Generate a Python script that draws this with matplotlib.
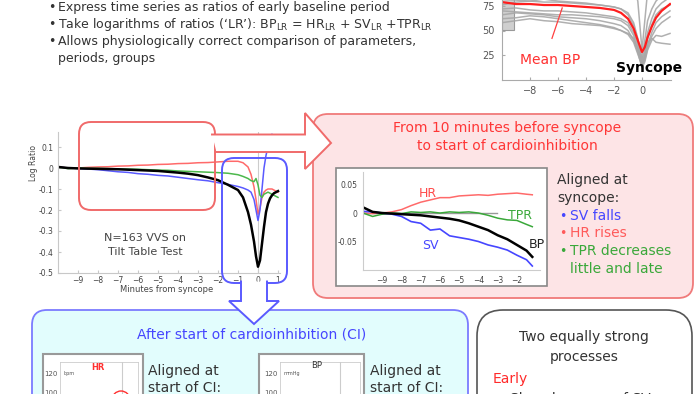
import numpy as np
import matplotlib.pyplot as plt
from matplotlib.patches import FancyBboxPatch, Polygon, Rectangle, Circle

W, H = 700, 394

# main chart: log ratios, minutes from syncope (N=163)
t_main = [-10, -9.5, -9, -8.5, -8, -7.5, -7, -6.5, -6, -5.5, -5, -4.5, -4, -3.5, -3, -2.5, -2,
          -1.5, -1, -0.75, -0.5, -0.35, -0.2, -0.1, 0, 0.1, 0.2, 0.3, 0.4, 0.5, 0.6, 0.7, 0.8, 0.9, 1.0]
bp_main = [0.005, 0.0, -0.002, -0.003, -0.004, -0.005, -0.006, -0.008, -0.01, -0.012, -0.014, -0.018,
           -0.022, -0.027, -0.034, -0.045, -0.058, -0.08, -0.105, -0.14, -0.21, -0.27, -0.35, -0.42,
           -0.47, -0.44, -0.36, -0.28, -0.21, -0.17, -0.145, -0.13, -0.12, -0.115, -0.11]
hr_main = [0.005, 0.0, 0.0, 0.003, 0.005, 0.006, 0.009, 0.01, 0.013, 0.014, 0.017, 0.018, 0.021,
           0.022, 0.025, 0.026, 0.029, 0.032, 0.032, 0.025, 0.005, -0.03, -0.09, -0.15, -0.22,
           -0.19, -0.14, -0.115, -0.105, -0.1, -0.1, -0.1, -0.105, -0.11, -0.115]
sv_main = [0.005, 0.0, -0.002, -0.005, -0.008, -0.013, -0.018, -0.021, -0.027, -0.03, -0.035,
           -0.038, -0.044, -0.05, -0.056, -0.061, -0.07, -0.078, -0.088, -0.095, -0.105, -0.115,
           -0.15, -0.2, -0.25, -0.2, -0.1, 0.0, 0.06, 0.1, 0.13, 0.16, np.nan, np.nan, np.nan]
tpr_main = [0.005, -0.003, 0.0, -0.002, -0.002, -0.003, -0.004, -0.005, -0.006, -0.008, -0.01,
            -0.011, -0.014, -0.016, -0.018, -0.02, -0.022, -0.025, -0.032, -0.04, -0.05, -0.06,
            -0.065, -0.05, -0.08, -0.13, -0.14, -0.125, -0.12, -0.115, -0.12, -0.125, -0.13,
            -0.135, -0.14]
main_xticks = [-9, -8, -7, -6, -5, -4, -3, -2, -1, 0, 1]
main_yticks = [0.1, 0, -0.1, -0.2, -0.3, -0.4, -0.5]
main_ylabels = ["0.1", "0", "-0.1", "-0.2", "-0.3", "-0.4", "-0.5"]

# inset: 10 minutes before syncope
t_pre = [-10, -9.5, -9, -8.5, -8, -7.5, -7, -6.5, -6, -5.5, -5, -4.5, -4, -3.5, -3, -2.5, -2, -1.5, -1.2]
hr_pre = [0.0, -0.001, 0.0, 0.002, 0.006, 0.013, 0.019, 0.023, 0.027, 0.027, 0.03, 0.031, 0.032,
          0.031, 0.033, 0.034, 0.035, 0.033, 0.032]
sv_pre = [0.003, 0.002, 0.0, -0.002, -0.006, -0.015, -0.018, -0.03, -0.028, -0.04, -0.043, -0.046,
          -0.05, -0.056, -0.06, -0.065, -0.074, -0.082, -0.093]
bp_pre = [0.01, 0.002, 0.0, -0.001, -0.002, -0.003, -0.004, -0.006, -0.008, -0.01, -0.013, -0.018,
          -0.024, -0.03, -0.039, -0.046, -0.056, -0.066, -0.077]
tpr_pre = [0.0, -0.006, -0.002, 0.0, -0.001, 0.002, 0.001, 0.002, 0.0, 0.002, 0.001, 0.002, 0.0,
           -0.004, -0.009, -0.012, -0.013, -0.02, -0.024]
pre_xticks = [-9, -8, -7, -6, -5, -4, -3, -2]
pre_yticks = [0.05, 0, -0.05]
pre_ylabels = ["0.05", "0", "-0.05"]

# top right: BP traces (mmHg)
t_bp = [-10, -9, -8, -7, -6, -5, -4, -3, -2, -1.5, -1, -0.6, -0.3, 0, 0.2, 0.4, 0.7, 1.0, 1.4, 2.0]
mean_bp = [79, 77, 77, 76, 76, 75, 74, 73, 71, 68, 62, 52, 40, 28, 33, 43, 54, 63, 70, 77]
bp_traces = [
    [82, 81, 80, 79, 79, 78, 77, 76, 74, 72, 68, 58, 42, 20, 30, 48, 62, 72, 78, 84],
    [72, 73, 71, 70, 70, 69, 68, 66, 64, 62, 58, 48, 35, 15, 22, 35, 48, 58, 64, 70],
    [66, 68, 67, 66, 64, 63, 62, 60, 57, 55, 50, 40, 28, 12, 18, 30, 40, 45, 44, 47],
    [76, 79, 80, 82, 84, 85, 86, 88, 90, 92, 95, 96, 80, 30, 60, 90, 100, 100, 100, 100],
    [62, 63, 65, 64, 62, 60, 58, 56, 53, 50, 47, 42, 32, 16, 24, 38, 42, 38, 37, 36],
    [85, 84, 83, 82, 80, 79, 78, 76, 74, 72, 66, 55, 38, 22, 40, 60, 72, 80, 86, 90],
    [58, 60, 62, 60, 59, 57, 56, 55, 52, 50, 46, 38, 26, 14, 20, 32, 44, 52, 58, 64],
    [70, 69, 68, 67, 66, 66, 65, 64, 62, 60, 55, 45, 30, 18, 26, 42, 56, 66, 72, 76],
]
bp_xticks = [-8, -6, -4, -2, 0]
bp_yticks = [25, 50, 75]

ci_yticks = [120, 100]

bullets_top = [
    "Express time series as ratios of early baseline period",
    r"Take logarithms of ratios (‘LR’): BP$_\mathrm{LR}$ = HR$_\mathrm{LR}$ + SV$_\mathrm{LR}$ +TPR$_\mathrm{LR}$",
    "Allows physiologically correct comparison of parameters,",
]

RED = '#ff5a5a'
BLUE = '#4646ff'
GREEN = '#3aa83a'
DARK = '#333333'


def box(x0, y0, x1, y1):
    return [x0 / W, 1 - y1 / H, (x1 - x0) / W, (y1 - y0) / H]


def rbox(ax, x0, y0, x1, y1, r, fc, ec, lw=1.3, z=1):
    ax.add_patch(FancyBboxPatch((x0, y0), x1 - x0, y1 - y0,
                                boxstyle=f"round,pad=0,rounding_size={r}",
                                fc=fc, ec=ec, lw=lw, zorder=z))


def arrow(ax, pts, color):
    ax.add_patch(Polygon(pts, closed=True, fc='white', ec='none', zorder=3))
    xs, ys = zip(*pts)
    ax.plot(xs, ys, color=color, lw=1.4, zorder=4, solid_joinstyle='miter')


fig = plt.figure(figsize=(7, 3.94), dpi=100)

bg = fig.add_axes([0, 0, 1, 1], zorder=0)
bg.set_xlim(0, W); bg.set_ylim(H, 0); bg.axis('off')

# top bullets
for i, s in enumerate(bullets_top):
    y = 7 + 17 * i
    bg.text(48, y, "•", fontsize=9, color=DARK, va='center')
    bg.text(58, y, s, fontsize=9, color=DARK, va='center')
bg.text(58, 58, "periods, groups", fontsize=9, color=DARK, va='center')

# background boxes
rbox(bg, 313, 114, 693, 298, 15, '#fde4e6', '#f07a7a', 1.3)
bg.text(507, 128, "From 10 minutes before syncope", fontsize=10, color='#ff3636', ha='center', va='center')
bg.text(507, 146, "to start of cardioinhibition", fontsize=10, color='#ff3636', ha='center', va='center')
bg.add_patch(Rectangle((336, 168), 211, 118, fc='white', ec='#888888', lw=1.2, zorder=1))
bg.text(557, 180, "Aligned at", fontsize=10, color=DARK, va='center')
bg.text(557, 198, "syncope:", fontsize=10, color=DARK, va='center')
for y, s, c in [(216, "SV falls", BLUE), (233, "HR rises", RED), (251, "TPR decreases", GREEN)]:
    bg.text(559, y, "•", fontsize=9, color=c, va='center')
    bg.text(570, y, s, fontsize=10, color=c, va='center')
bg.text(570, 269, "little and late", fontsize=10, color=GREEN, va='center')

rbox(bg, 32, 310, 468, 440, 15, '#e2fdfd', '#7b7bff', 1.3)
bg.text(252, 335, "After start of cardioinhibition (CI)", fontsize=10, color=BLUE, ha='center', va='center')
bg.add_patch(Rectangle((43, 354), 100, 60, fc='white', ec='#999999', lw=1.5, zorder=1))
bg.add_patch(Rectangle((259, 354), 105, 60, fc='white', ec='#999999', lw=1.5, zorder=1))
for x in [148, 370]:
    bg.text(x, 371, "Aligned at", fontsize=10, color=DARK, va='center')
    bg.text(x, 388, "start of CI:", fontsize=10, color=DARK, va='center')

rbox(bg, 477, 310, 692, 440, 26, 'white', '#555555', 1.2)
bg.text(584, 337, "Two equally strong", fontsize=10, color=DARK, ha='center', va='center')
bg.text(584, 357, "processes", fontsize=10, color=DARK, ha='center', va='center')
bg.text(493, 379, "Early", fontsize=10, color='#ff2a2a', va='center')
bg.text(493, 399, "•  Slow decrease of SV", fontsize=10, color=DARK, va='center')

# top right BP chart
ax = fig.add_axes(box(502, -8.7, 671.4, 79.5), zorder=2)
ax.patch.set_alpha(0)
ax.add_patch(Rectangle((-10, 51), 0.85, 60, fc='#cfcfcf', ec='#999999', lw=0.8))
for tr in bp_traces:
    ax.plot(t_bp, tr, color='#a8a8a8', lw=1.1, alpha=0.9)
ax.plot(t_bp, mean_bp, color='#ff1e1e', lw=1.6)
ax.plot([-6.43, -5.7], [42, 73], color='#ff4040', lw=0.9)
ax.set_xlim(-10, 2.1); ax.set_ylim(0, 90)
ax.set_xticks(bp_xticks); ax.set_yticks(bp_yticks)
for s in ['top', 'right']:
    ax.spines[s].set_visible(False)
for s in ['left', 'bottom']:
    ax.spines[s].set_color('#aaaaaa')
ax.tick_params(labelsize=7, labelcolor='#555555', color='#aaaaaa', length=2, direction='in', pad=5)

# main chart
ax = fig.add_axes(box(58, 132.3, 280, 273), zorder=2)
ax.patch.set_alpha(0)
ax.axvline(0, color='#cccccc', lw=0.8)
ax.plot(t_main, hr_main, color='#ff6a6a', lw=1.1)
ax.plot(t_main, sv_main, color='#5a5aff', lw=1.1)
ax.plot(t_main, tpr_main, color='#4cb84c', lw=1.1)
ax.plot(t_main, bp_main, color='black', lw=1.8)
ax.set_xlim(-10, 1.1); ax.set_ylim(-0.5, 0.17)
ax.set_xticks(main_xticks); ax.set_yticks(main_yticks)
ax.set_yticklabels(main_ylabels)
for s in ['top', 'right']:
    ax.spines[s].set_visible(False)
for s in ['left', 'bottom']:
    ax.spines[s].set_color('#c8c8c8')
ax.tick_params(labelsize=5.5, labelcolor='#444444', color='#c8c8c8', length=2, direction='in')
ax.tick_params(axis='x', pad=2)
ax.tick_params(axis='y', pad=3)
ax.set_ylabel("Log Ratio", fontsize=5.5, color='#444444')
ax.yaxis.set_label_coords(-0.09, 0.78)
ax.set_xlabel("Minutes from syncope", fontsize=6, color='#444444')
ax.xaxis.set_label_coords(0.49, -0.085)
ax.text(-5.65, -0.335, "N=163 VVS on", fontsize=8, color='#444444', ha='center', va='center')
ax.text(-5.65, -0.402, "Tilt Table Test", fontsize=8, color='#444444', ha='center', va='center')

# inset before cardioinhibition
ax = fig.add_axes(box(363, 172, 540, 270), zorder=2)
ax.patch.set_alpha(0)
ax.plot([-10, -3.05], [0, 0], color='#999999', lw=1)
ax.plot(t_pre, hr_pre, color='#ff6a6a', lw=1.1)
ax.plot(t_pre, tpr_pre, color='#3aa83a', lw=1.1)
ax.plot(t_pre, sv_pre, color='#4646ff', lw=1.2)
ax.plot(t_pre, bp_pre, color='black', lw=1.8)
ax.set_xlim(-10, -0.8); ax.set_ylim(-0.1, 0.072)
ax.set_xticks(pre_xticks); ax.set_yticks(pre_yticks)
ax.set_yticklabels(pre_ylabels)
for s in ['top', 'right']:
    ax.spines[s].set_visible(False)
for s in ['left', 'bottom']:
    ax.spines[s].set_color('#cccccc')
ax.tick_params(labelsize=5.5, labelcolor='#444444', color='#cccccc', length=0, pad=4)

# CI charts
for (x0, x1, xl) in [(60, 138, (-4, 1)), (280, 360, (-3, 1))]:
    ax = fig.add_axes(box(x0, 362, x1, 430), zorder=2)
    ax.patch.set_alpha(0)
    ax.axvline(0, color='#cccccc', lw=0.8)
    ax.set_xlim(*xl); ax.set_ylim(61, 132.6)
    ax.set_xticks([]); ax.set_yticks(ci_yticks)
    for s in ax.spines.values():
        s.set_color('#cccccc'); s.set_linewidth(0.6)
    ax.tick_params(labelsize=5, labelcolor='#555555', length=0, pad=2)

fg = fig.add_axes([0, 0, 1, 1], zorder=5)
fg.set_xlim(0, W); fg.set_ylim(H, 0); fg.axis('off')

rbox(fg, 79, 122, 215, 210, 12, 'none', '#f06a6a', 1.4, z=2)
arrow(fg, [(212, 134.5), (305, 134.5), (305, 113), (331, 143), (305, 169), (305, 152), (216.5, 152)], '#f06a6a')
rbox(fg, 222, 158, 287, 283, 12, 'none', '#5a5aff', 1.4, z=2)
arrow(fg, [(241, 281.5), (241, 301), (229, 301), (254, 324), (279, 301), (267, 301), (267, 281.5)], '#5a5aff')

fg.text(428, 193, "HR", fontsize=9, color='#ff4a4a', ha='center', va='center')
fg.text(520, 215, "TPR", fontsize=9, color=GREEN, ha='center', va='center')
fg.text(430, 245, "SV", fontsize=9, color=BLUE, ha='center', va='center')
fg.text(537, 244, "BP", fontsize=9, color='#222222', ha='center', va='center')
fg.text(520, 60, "Mean BP", fontsize=10, color='#ff3030', va='center')
fg.text(616, 68, "Syncope", fontsize=10, color='black', fontweight='bold', va='center')
fg.text(63, 374, "bpm", fontsize=3.5, color='#555555', va='center')
fg.text(98, 367, "HR", fontsize=6, color='#ff3030', fontweight='bold', ha='center', va='center')
fg.text(284, 373, "mmHg", fontsize=3.5, color='#555555', va='center')
fg.text(317, 365, "BP", fontsize=6, color='#333333', ha='center', va='center')
fg.add_patch(Circle((121, 400), 9, fill=False, ec='#ff3030', lw=1.0))

fig.savefig("out.png", dpi=100)
